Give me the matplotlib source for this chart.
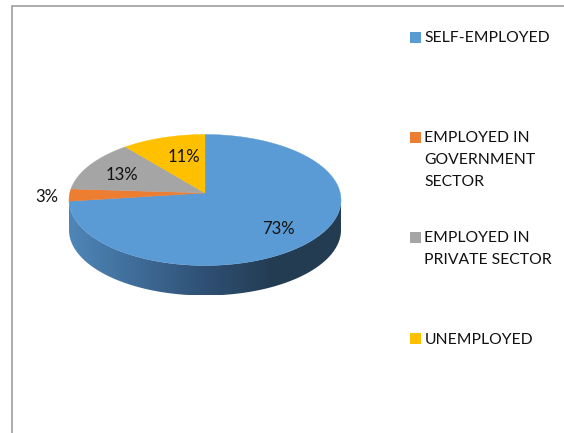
import numpy as np
import matplotlib
matplotlib.use("Agg")
import matplotlib.pyplot as plt
from matplotlib.colors import LinearSegmentedColormap
from matplotlib.patches import Rectangle, Polygon

categories = ["SELF-EMPLOYED", "EMPLOYED IN\nGOVERNMENT\nSECTOR",
              "EMPLOYED IN\nPRIVATE SECTOR", "UNEMPLOYED"]
values = [73, 3, 13, 11]
labels = ["73%", "3%", "13%", "11%"]
colors = ["#5B9BD5", "#ED7D31", "#A5A5A5", "#FFC000"]

W, H = 564, 433
CX, CY, RX, RY, DEPTH, TILT = 205, 200, 136, 65.5, 30, 0.107
wall_cmap = LinearSegmentedColormap.from_list("wall", ["#4F86B8", "#3F6C98", "#2F5074", "#233C52", "#233C52"])

plt.rcParams["font.family"] = ["Lato", "DejaVu Sans"]
fig = plt.figure(figsize=(W / 100, H / 100), dpi=100, facecolor="white")
ax = fig.add_axes([0, 0, 1, 1])
ax.axis("off")


def rim(theta):
    """Perspective projection of a point on the pie rim; theta clockwise from 12 o'clock."""
    s, c = np.sin(theta), np.cos(theta)
    d = 1 + TILT * c
    return CX + RX * np.sqrt(1 - TILT ** 2) * s / d, CY - RY * (c + TILT) / d


# frame
ax.plot([W, 12, 12], [6, 6, H], color="#A6A6A6", lw=1.3, solid_joinstyle="miter")

# side wall: horizontal gradient clipped to the visible outline
phis = np.linspace(np.pi / 2, 3 * np.pi / 2, 181)
wx = CX + RX * np.sin(phis)
wy = CY - RY * np.cos(phis)
outline = np.column_stack([np.r_[wx, wx[::-1]], np.r_[wy + DEPTH, wy[::-1]]])
clip = Polygon(outline, closed=True, transform=ax.transData, facecolor="none", edgecolor="none")
ax.add_patch(clip)
img = ax.imshow(np.linspace(0, 1, 256)[None, :], cmap=wall_cmap, aspect="auto",
                extent=(CX - RX, CX + RX, CY + RY + DEPTH, CY - 10), interpolation="bilinear", vmin=0, vmax=1)
img.set_clip_path(clip)
ax.set_xlim(0, W)
ax.set_ylim(H, 0)

# top surface
fractions = np.array(values) / sum(values)
edges = np.concatenate([[0], np.cumsum(fractions)]) * 2 * np.pi
apex = (CX, CY - RY * TILT)
for start, end, col in zip(edges[:-1], edges[1:], colors):
    th = np.linspace(start, end, max(int((end - start) * 80), 4))
    x, y = rim(th)
    ax.fill(np.r_[apex[0], x], np.r_[apex[1], y], color=col, lw=0.3)

# data labels
label_pos = [(278, 229.5), (47, 196.5), (122, 175.5), (184, 157.5)]
for txt, (x, y) in zip(labels, label_pos):
    ax.text(x, y, txt, ha="center", va="center", fontsize=12, color="#111111")

# legend
legend_y = [37, 137, 237, 338]
for name, col, y in zip(categories, colors, legend_y):
    ax.add_patch(Rectangle((410, y - 5.5), 11, 11, color=col, lw=0))
    ax.text(424.5, y - 5.5, name, ha="left", va="top", fontsize=11.3, color="#111111", linespacing=1.72)

fig.savefig("out.png", dpi=100, facecolor="white")
